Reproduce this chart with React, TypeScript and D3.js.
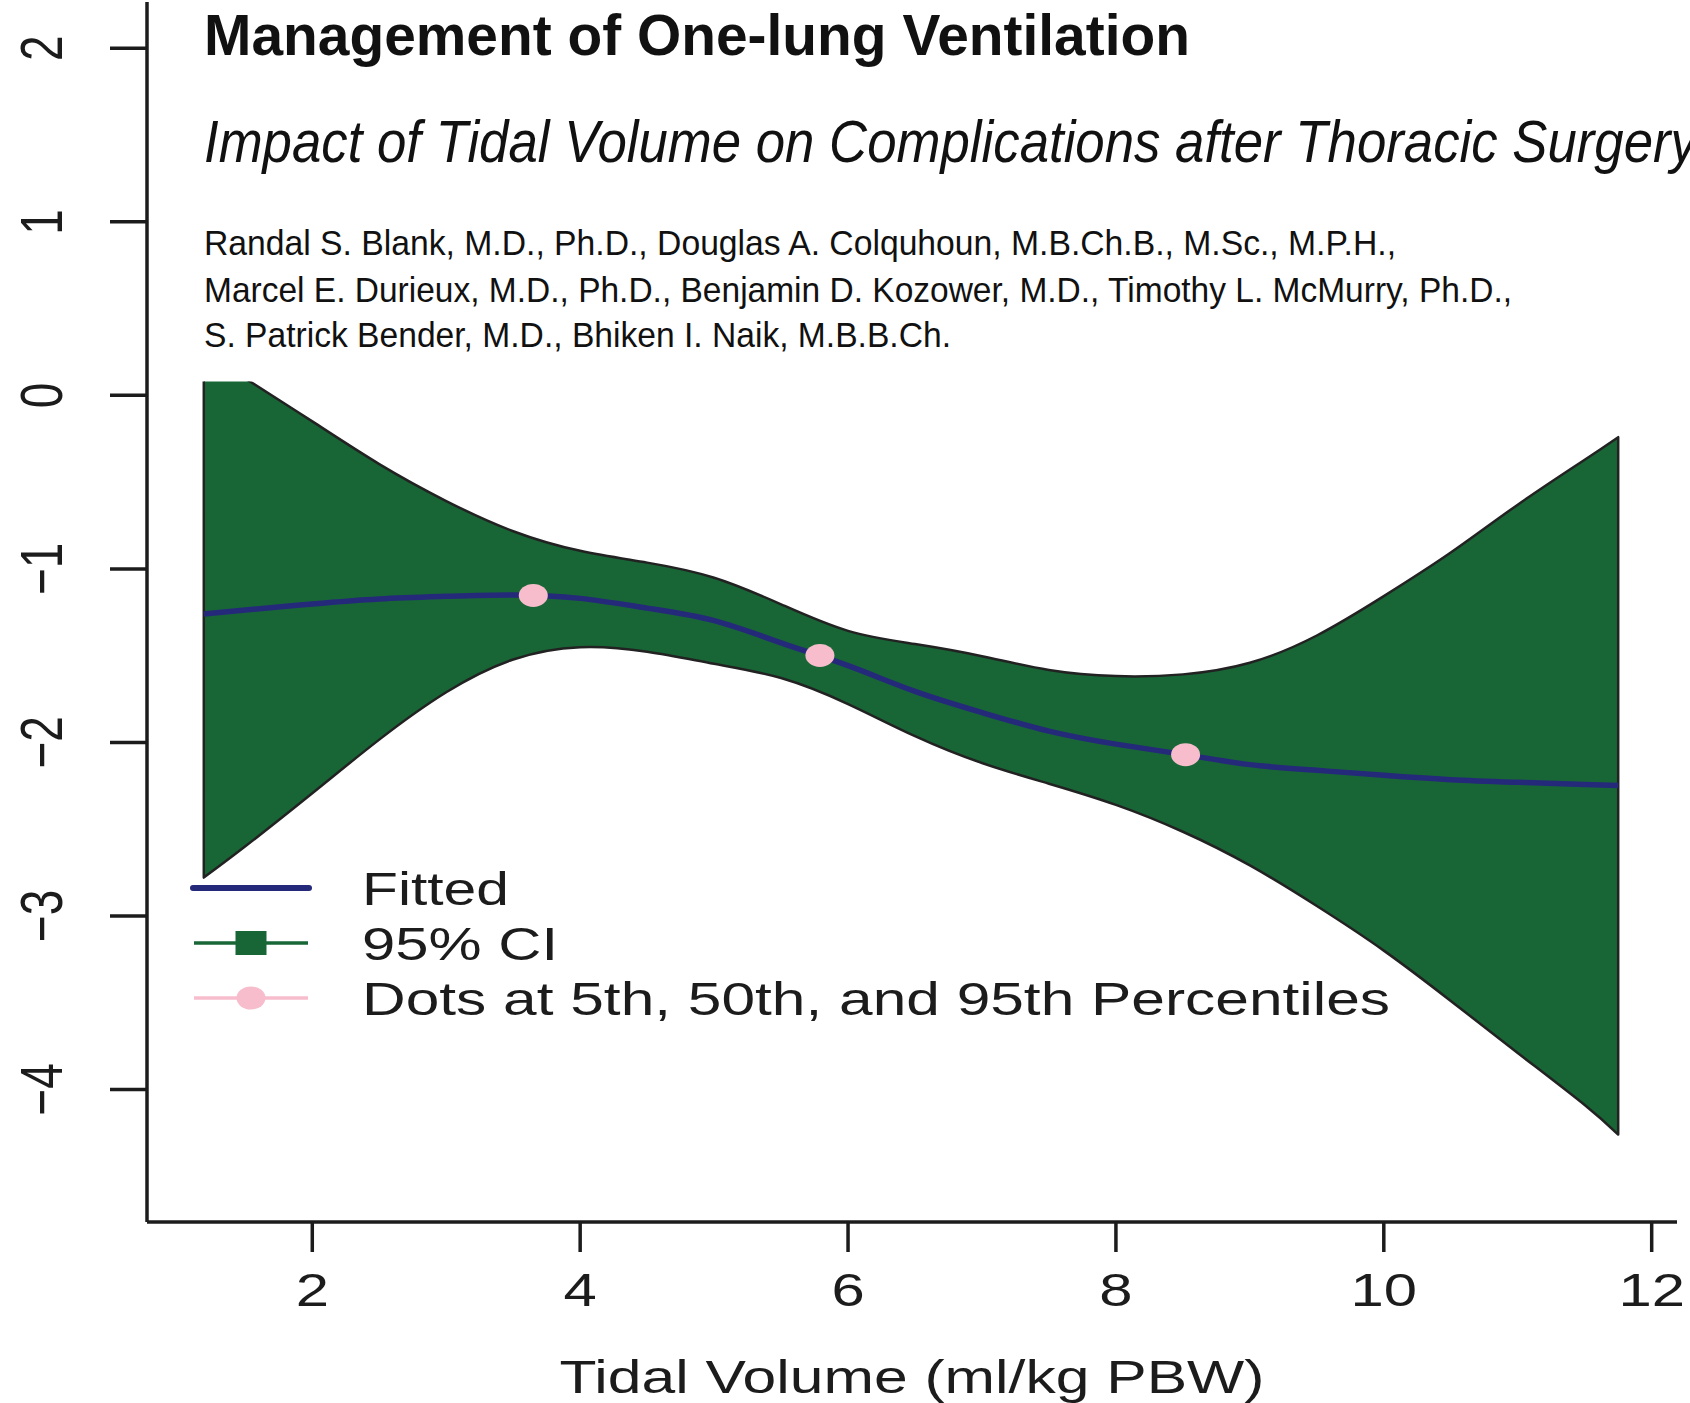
import React from 'react';
import * as d3 from 'd3';

// Values (tidal volume in ml/kg PBW, log-odds scale)
const tidalVolume = [1.19, 1.5, 2, 2.5, 3, 3.5, 4, 4.5, 5, 5.5, 6, 6.5, 7, 7.5, 8, 8.5, 9, 9.5, 10, 10.5, 11, 11.5, 11.75];
const fitted = [-1.26, -1.237, -1.202, -1.173, -1.158, -1.15, -1.17, -1.226, -1.298, -1.426, -1.558, -1.706, -1.828, -1.935, -2.01, -2.069, -2.128, -2.161, -2.19, -2.215, -2.23, -2.243, -2.249];
const ciUpper = [0.247, 0.097, -0.15, -0.396, -0.609, -0.783, -0.896, -0.964, -1.051, -1.204, -1.357, -1.433, -1.503, -1.583, -1.618, -1.608, -1.541, -1.384, -1.157, -0.906, -0.63, -0.371, -0.241];
const ciLower = [-2.779, -2.599, -2.293, -1.984, -1.711, -1.522, -1.451, -1.477, -1.547, -1.629, -1.779, -1.964, -2.119, -2.238, -2.36, -2.515, -2.709, -2.943, -3.2, -3.49, -3.79, -4.09, -4.26];

// pink dots at the 5th, 50th and 95th percentiles
const pctX = [3.65, 5.79, 8.52];
const pctY = [-1.153, -1.499, -2.071];

const xTicks = [2, 4, 6, 8, 10, 12];
const yTicks = [2, 1, 0, -1, -2, -3, -4];

const legendLabels = ['Fitted', '95% CI', 'Dots at 5th, 50th, and 95th Percentiles'];
const title = 'Management of One-lung Ventilation';
const subtitle = 'Impact of Tidal Volume on Complications after Thoracic Surgery';
const authors = [
  'Randal S. Blank, M.D., Ph.D., Douglas A. Colquhoun, M.B.Ch.B., M.Sc., M.P.H.,',
  'Marcel E. Durieux, M.D., Ph.D., Benjamin D. Kozower, M.D., Timothy L. McMurry, Ph.D.,',
  'S. Patrick Bender, M.D., Bhiken I. Naik, M.B.B.Ch.',
];

const W = 1690;
const H = 1403;
const GREEN = '#186636';
const NAVY = '#25297a';
const PINK = '#f7bdcc';
const INK = '#1c1c1c';
const FONT = "'Liberation Sans', Arial, Helvetica, sans-serif";
const SX = 1.3; // the R output is stretched horizontally

const App: React.FC = () => {
  const x = d3.scaleLinear().domain([0.766, 12.189]).range([147, 1677]);
  const y = d3.scaleLinear().domain([-4.764, 2.267]).range([1222, 2]);

  const pts = tidalVolume.map((v, i) => ({ x: v, f: fitted[i], lo: ciLower[i], hi: ciUpper[i] }));

  const band = d3.area<typeof pts[0]>()
    .x(d => x(d.x))
    .y0(d => y(d.lo))
    .y1(d => y(d.hi))
    .curve(d3.curveNatural);

  const line = d3.line<typeof pts[0]>()
    .x(d => x(d.x))
    .y(d => y(d.f))
    .curve(d3.curveNatural);

  const [x0, x1] = x.range();
  const [yb, yt] = y.range();
  const clipTop = y(0.08);

  const legendY = [888, 943, 998];

  return (
    <svg width={W} height={H} style={{ position: 'absolute', left: 0, top: 0, background: '#fff' }} fontFamily={FONT}>
      <defs>
        <clipPath id="plotClip">
          <rect x={x0} y={clipTop} width={x1 - x0} height={yb - clipTop} />
        </clipPath>
      </defs>
      <rect width={W} height={H} fill="#fff" />

      {/* header */}
      <text x={204} y={55} fontSize={58} fontWeight="bold" fill="#111" textLength={986} lengthAdjust="spacingAndGlyphs">{title}</text>
      <text x={204} y={162} fontSize={60} fontStyle="italic" fill="#111" textLength={1493} lengthAdjust="spacingAndGlyphs">{subtitle}</text>
      {authors.map((a, i) => (
        <text key={i} x={204} y={[255, 301.5, 346.5][i]} fontSize={35} fill="#111"
          textLength={[1192, 1308, 747][i]} lengthAdjust="spacingAndGlyphs">{a}</text>
      ))}

      {/* CI band and fitted curve */}
      <g clipPath="url(#plotClip)">
        <path d={band(pts) ?? ''} fill={GREEN} stroke="#222" strokeWidth={2.5} strokeLinejoin="round" />
      </g>
      <path d={line(pts) ?? ''} fill="none" stroke={NAVY} strokeWidth={5.5} />
      {pctX.map((v, i) => (
        <ellipse key={i} cx={x(v)} cy={y(pctY[i])} rx={14.5} ry={11.5} fill={PINK} />
      ))}

      {/* axes */}
      <line x1={x0} y1={yt} x2={x0} y2={yb} stroke={INK} strokeWidth={3.5} />
      <line x1={x0} y1={yb} x2={x1} y2={yb} stroke={INK} strokeWidth={3.5} />
      {xTicks.map(t => (
        <g key={t}>
          <line x1={x(t)} x2={x(t)} y1={yb} y2={yb + 30} stroke={INK} strokeWidth={3.5} />
          <text transform={`translate(${x(t)},1306) scale(${SX},1)`} textAnchor="middle" fontSize={46} fill={INK}>{t}</text>
        </g>
      ))}
      {yTicks.map(t => (
        <g key={t}>
          <line x1={x0 - 37} x2={x0} y1={y(t)} y2={y(t)} stroke={INK} strokeWidth={3.5} />
          <text transform={`translate(62,${y(t)}) scale(${SX},1) rotate(-90)`} textAnchor="middle" fontSize={46} fill={INK}>
            {t < 0 ? `\u2212${-t}` : `${t}`}
          </text>
        </g>
      ))}
      <text x={(x0 + x1) / 2} y={1393} textAnchor="middle" fontSize={47} fill={INK} textLength={705} lengthAdjust="spacingAndGlyphs">
        Tidal Volume (ml/kg PBW)
      </text>

      {/* legend */}
      <line x1={193} x2={309} y1={legendY[0]} y2={legendY[0]} stroke={NAVY} strokeWidth={6} strokeLinecap="round" />
      <line x1={194} x2={308} y1={legendY[1]} y2={legendY[1]} stroke={GREEN} strokeWidth={3.5} />
      <rect x={251 - 15.5} y={legendY[1] - 12} width={31} height={24} fill={GREEN} />
      <line x1={194} x2={308} y1={legendY[2]} y2={legendY[2]} stroke={PINK} strokeWidth={3.5} />
      <ellipse cx={251} cy={legendY[2]} rx={14.5} ry={11.5} fill={PINK} />
      {legendLabels.map((l, i) => (
        <text key={l} x={362} y={legendY[i] + 16.5} fontSize={46} fill={INK}
          textLength={[147, 196, 1028][i]} lengthAdjust="spacingAndGlyphs">{l}</text>
      ))}
    </svg>
  );
};

export default App;
